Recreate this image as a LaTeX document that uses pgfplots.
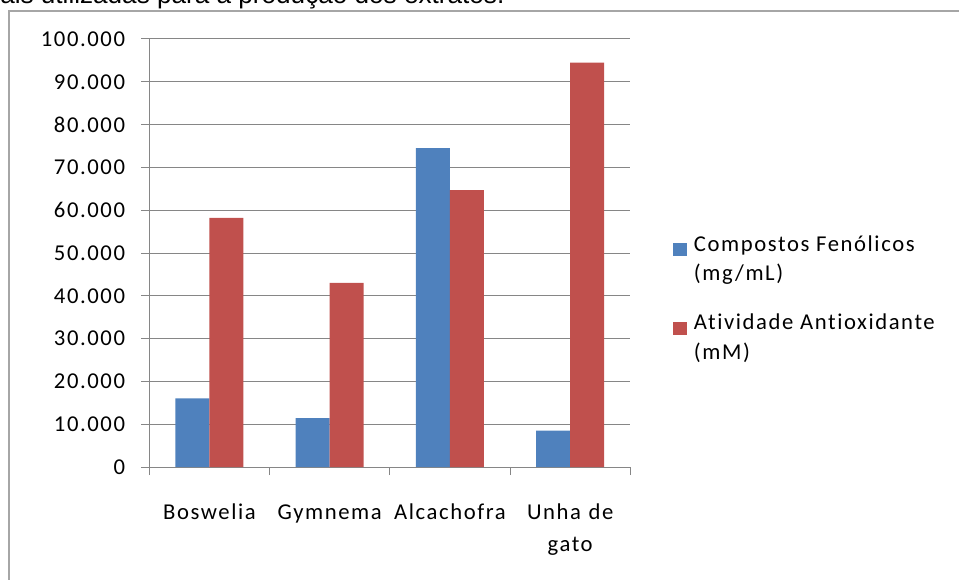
\documentclass[border=0pt]{standalone}
\usepackage{pgfplots}
\pgfplotsset{compat=1.18}
\usepackage{fontspec}
\setmainfont{Carlito}[LetterSpace=7.0, Ligatures={NoCommon}]
\newfontfamily\capfont{Liberation Sans}
\definecolor{xblue}{HTML}{4F81BD}
\definecolor{xred}{HTML}{C0504D}
\definecolor{gridc}{HTML}{868686}
\definecolor{framec}{HTML}{A6A6A6}
\begin{document}
\begin{tikzpicture}
\useasboundingbox (0,0) rectangle (719.25pt,434.25pt);
\clip (0,0) rectangle (719.25pt,434.25pt);
\draw[framec, line width=1.8pt] (6.6pt,-20pt) -- (6.6pt,426.2pt) -- (740pt,426.2pt);
\node[anchor=base west, inner sep=0pt, font=\capfont\fontsize{19.6}{23}\selectfont] at (0pt,431.4pt) {ais utilizadas para a produção dos extratos.};
\begin{axis}[
  at={(112pt,84pt)}, anchor=south west,
  scale only axis, width=360.75pt, height=321pt,
  ybar=0pt, bar width=25.5pt,
  xmin=-0.5, xmax=3.5, ymin=0, ymax=100000,
  axis x line=bottom, axis y line=left,
  axis line style={gridc, line width=0.75pt, -},
  xtick={0,1,2,3},
  xticklabels={Boswelia, Gymnema, Alcachofra, Unha de\\gato},
  minor xtick={-0.5,0.5,1.5,2.5,3.5},
  major x tick style={draw=none},
  ytick={0,10000,20000,30000,40000,50000,60000,70000,80000,90000,100000},
  yticklabels={0,10.000,20.000,30.000,40.000,50.000,60.000,70.000,80.000,90.000,100.000},
  scaled y ticks=false,
  ymajorgrids, grid style={gridc, line width=0.75pt},
  tick style={gridc, line width=0.75pt},
  tick align=outside, major tick length=6pt, minor tick length=6pt,
  /pgf/number format/assume math mode=true,
  tick label style={font=\fontsize{17}{24}\selectfont, text=black},
  yticklabel style={anchor=east, inner sep=0pt, xshift=-12pt},
  xticklabel style={text width=110pt, align=center, anchor=base, inner sep=0pt, yshift=-33pt},
  legend cell align=left,
  legend image code/.code={\fill[#1] (0pt,2pt) rectangle (10.5pt,11.75pt);},
  legend style={draw=none, fill=none, inner sep=0pt, at={(1.0888,0.542)}, anchor=north west,
    nodes={align=left, inner sep=0pt, font=\fontsize{17}{22}\selectfont, text=black},
    column sep=5pt, row sep=23.75pt},
]
\addplot[fill=xblue, draw=none] coordinates {(0,16050) (1,11400) (2,74500) (3,8500)};
\addplot[fill=xred, draw=none] coordinates {(0,58200) (1,43000) (2,64700) (3,94500)};
\addlegendentry{Compostos Fenólicos\\(mg/mL)}
\addlegendentry{Atividade Antioxidante\\(mM)}
\end{axis}
\end{tikzpicture}
\end{document}
